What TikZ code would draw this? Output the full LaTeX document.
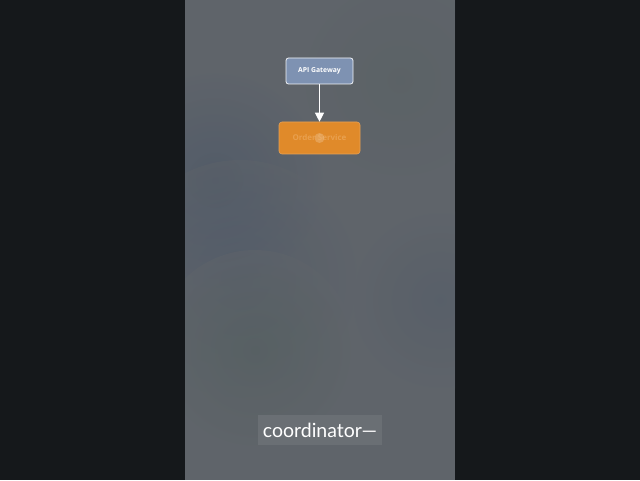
\documentclass[tikz,border=0pt]{standalone}
\usepackage{fontspec}
\setmainfont{Lato}
\newfontfamily\boxfont{Open Sans}
\usetikzlibrary{arrows.meta}
\definecolor{sidebg}{HTML}{15181B}
\definecolor{panelbg}{HTML}{5F646A}
\definecolor{blobblue}{HTML}{4A5668}
\definecolor{blobgreen}{HTML}{55605F}
\definecolor{gwfill}{HTML}{7E92B2}
\definecolor{orfill}{HTML}{E08A2A}
\definecolor{ortext}{HTML}{E9A04E}
\definecolor{capfill}{HTML}{6A6F74}
\tikzset{
  gwbox/.style={draw=white!90!gwfill, line width=0.8pt, fill=gwfill, rounded corners=2.5pt,
    minimum width=67pt, minimum height=26pt, inner sep=0pt, text=white,
    font=\boxfont\bfseries\fontsize{6.8}{7}\selectfont},
  orbox/.style={draw=orfill!80!white, line width=0.6pt, fill=orfill, rounded corners=3pt,
    minimum width=81pt, minimum height=32pt, inner sep=0pt, text=ortext,
    font=\boxfont\bfseries\fontsize{8}{9}\selectfont},
  capbox/.style={fill=capfill, minimum width=124pt, minimum height=30pt, inner sep=0pt,
    text=white, font=\fontsize{19.5}{21}\selectfont},
  flow/.style={draw=white, line width=1pt, -{Triangle[width=9pt,length=9pt]}}
}
\begin{document}
\begin{tikzpicture}[x=1pt,y=1pt]
\useasboundingbox (0,0) rectangle (640,480);
\fill[sidebg] (0,0) rectangle (640,480);
\begin{scope}
\clip (185,0) rectangle (455,480);
\fill[panelbg] (185,0) rectangle (455,480);
\shade[inner color=blobblue, outer color=panelbg, opacity=0.6] (215,300) circle (110);
\shade[inner color=blobblue, outer color=panelbg, opacity=0.4] (240,200) circle (120);
\shade[inner color=blobgreen, outer color=panelbg, opacity=0.5] (255,130) circle (100);
\shade[inner color=blobgreen, outer color=panelbg, opacity=0.3] (400,400) circle (100);
\shade[inner color=blobblue, outer color=panelbg, opacity=0.3] (440,180) circle (90);
\end{scope}
\node[gwbox] (gw) at (319.5,409) {API Gateway};
\node[orbox] (os) at (319.5,342) {Order Service};
\fill[orfill!60!white, opacity=0.5] (os.center) circle (5);
\draw[flow] (gw.south) -- (os.north);
\node[capbox] (cap) at (320,50) {coordinator—};
\end{tikzpicture}
\end{document}
